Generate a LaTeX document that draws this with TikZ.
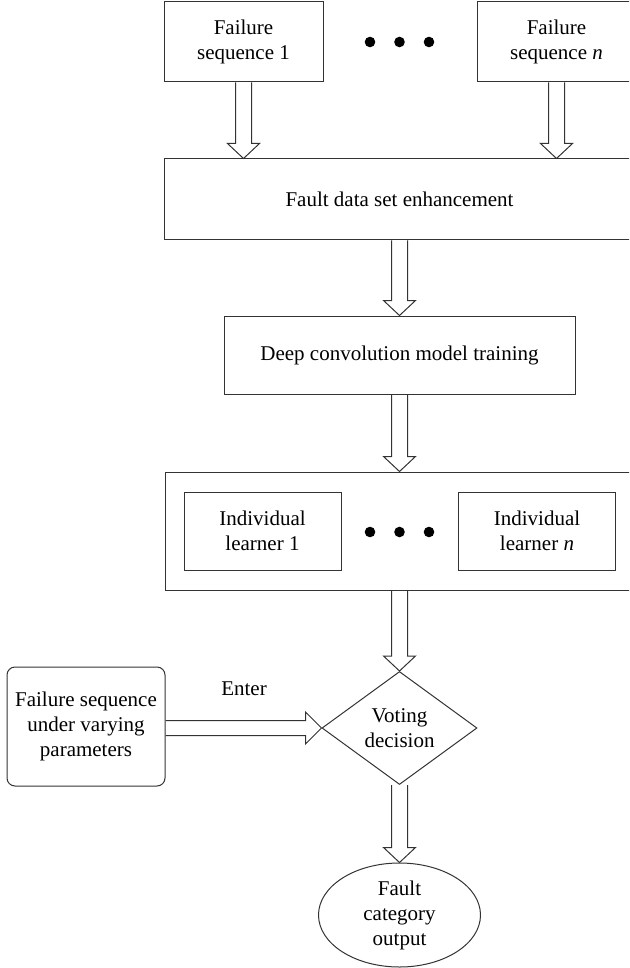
\documentclass[tikz,border=0pt]{standalone}
\usepackage{fontspec}
\setmainfont{Liberation Serif}
\usepackage{tikz}
\usetikzlibrary{calc,shapes.geometric}

% hollow block arrows between two anchors
\newcommand{\hollowdown}[2]{%
  \draw[hollow] let \p1=(#1), \p2=(#2) in
    (\x1-4pt,\y1) -- (\x1-4pt,\y2+7.5pt) -- (\x1-8pt,\y2+7.5pt) -- (\x1,\y2)
    -- (\x1+8pt,\y2+7.5pt) -- (\x1+4pt,\y2+7.5pt) -- (\x1+4pt,\y1);}
\newcommand{\hollowright}[2]{%
  \draw[hollow] let \p1=(#1), \p2=(#2) in
    (\x1,\y2+3.75pt) -- (\x2-8pt,\y2+3.75pt) -- (\x2-8pt,\y2+8pt) -- (\x2,\y2)
    -- (\x2-8pt,\y2-8pt) -- (\x2-8pt,\y2-3.75pt) -- (\x1,\y2-3.75pt);}

\begin{document}
\begin{tikzpicture}[x=0.5pt,y=-0.5pt,font=\fontsize{10.5}{12.5}\selectfont]

\tikzstyle{box}=[rectangle,draw=black!80,line width=0.5pt,align=center,inner sep=0pt]
\tikzstyle{dot}=[circle,fill=black,inner sep=0pt,minimum size=5.3pt]
\tikzstyle{hollow}=[draw=black!80,line width=0.5pt,line join=miter]

\useasboundingbox (0,0) rectangle (629,968);
\clip (0,0) rectangle (629,968);

% input sequences
\node[box,minimum width=79.5pt,minimum height=40pt] (seqone) at (243.5,42) {Failure\\sequence 1};
\node[box,minimum width=79.5pt,minimum height=40pt] (seqn) at (556.5,42) {Failure\\sequence \textit{n}};
\foreach \i/\dx in {1/-29.5,2/0,3/29.5}
  \node[dot] (topdot\i) at (399.5+\dx,42) {};

\node[box,minimum width=235.5pt,minimum height=40.5pt] (enhance) at (399.5,199.5) {Fault data set enhancement};
\node[box,minimum width=175.5pt,minimum height=39pt] (training) at (399.5,355) {Deep convolution model training};

% ensemble of learners
\node[box,minimum width=234.5pt,minimum height=59pt] (ensemble) at (399.5,531) {};
\node[box,minimum width=78.5pt,minimum height=39pt] (learnerone) at (262.5,531) {Individual\\learner 1};
\node[box,minimum width=78.5pt,minimum height=39pt] (learnern) at (537,531) {Individual\\learner \textit{n}};
\foreach \i/\dx in {1/-29.5,2/0,3/29.5}
  \node[dot] (middot\i) at (399.5+\dx,532) {};

\node[diamond,draw=black!80,line width=0.5pt,align=center,inner sep=0pt,minimum width=77.5pt,minimum height=56.5pt] (voting) at (399.5,728) {Voting\\decision};
\node[box,rounded corners=4pt,minimum width=79pt,minimum height=59.5pt] (params) at (86,726.5) {Failure sequence\\under varying\\parameters};
\node (enter) at (244,689) {Enter};
\node[ellipse,draw=black!80,line width=0.5pt,align=center,inner sep=0pt,minimum width=81pt,minimum height=52pt] (output) at (399.5,915) {Fault\\category\\output};

\hollowdown{seqone.south}{seqone.south |- enhance.north}
\hollowdown{seqn.south}{seqn.south |- enhance.north}
\hollowdown{enhance.south}{training.north}
\hollowdown{training.south}{ensemble.north}
\hollowdown{ensemble.south}{voting.north}
\hollowdown{voting.south}{output.north}
\hollowright{params.east}{voting.west}
\end{tikzpicture}
\end{document}
